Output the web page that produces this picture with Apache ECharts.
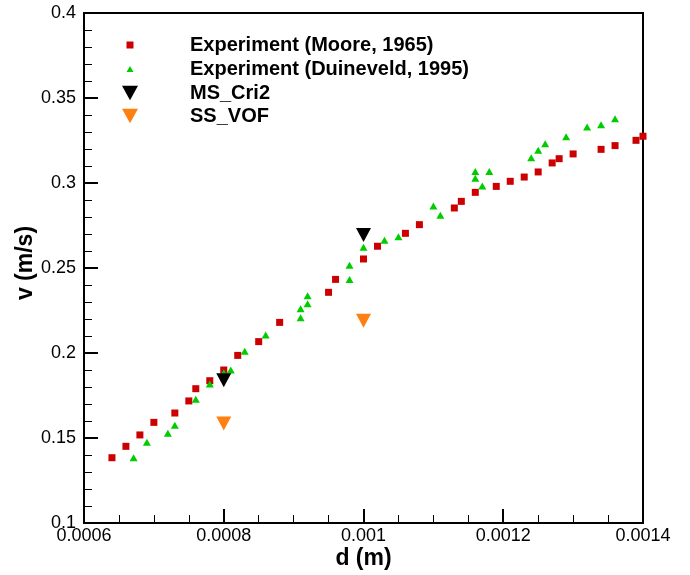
<!DOCTYPE html>
<html><head><meta charset="utf-8">
<script src="https://cdn.jsdelivr.net/npm/echarts@6/dist/echarts.min.js"></script>
<style>html,body{margin:0;padding:0;background:#fff}#c{width:690px;height:575px}</style>
</head><body><div id="c"></div>
<script>
const xTicks = [0.0006, 0.0008, 0.001, 0.0012, 0.0014];
const yTicks = [0.1, 0.15, 0.2, 0.25, 0.3, 0.35, 0.4];
const seriesNames = ['Experiment (Moore, 1965)', 'Experiment (Duineveld, 1995)', 'MS_Cri2', 'SS_VOF'];
const mooreD = [0.00064,0.00066,0.00068,0.0007,0.00073,0.00075,0.00076,0.00078,0.0008,0.00082,0.00085,0.00088,0.00095,0.00096,0.001,0.00102,0.00106,0.00108,0.00113,0.00114,0.00116,0.00119,0.00121,0.00123,0.00125,0.00127,0.00128,0.0013,0.00134,0.00136,0.00139,0.0014];
const mooreV = [0.1384,0.1451,0.1518,0.1592,0.1647,0.1718,0.179,0.1837,0.19,0.1986,0.2067,0.218,0.2357,0.2433,0.2553,0.2628,0.2704,0.2755,0.2853,0.2892,0.2945,0.298,0.301,0.3035,0.3065,0.3118,0.3143,0.3171,0.3198,0.322,0.3251,0.3275];
const duinD = [0.000671,0.00069,0.00072,0.00073,0.00076,0.00078,0.0008,0.00081,0.00083,0.00086,0.00091,0.00091,0.00092,0.00092,0.00098,0.00098,0.001,0.00103,0.00105,0.0011,0.00111,0.00116,0.00116,0.00117,0.00118,0.00124,0.00125,0.00126,0.00129,0.00132,0.00134,0.00136];
const duinV = [0.1384,0.1475,0.1528,0.1575,0.1728,0.1818,0.1884,0.19,0.201,0.2106,0.2208,0.2261,0.229,0.2337,0.2433,0.2516,0.2622,0.2663,0.2684,0.2865,0.281,0.3028,0.3067,0.2982,0.3067,0.3149,0.3192,0.3231,0.3272,0.3329,0.3343,0.3378];
const msD = [0.0008, 0.001];
const msV = [0.184, 0.2694];
const ssD = [0.0008, 0.001];
const ssV = [0.1586, 0.219];

const zip = (a, b) => a.map((v, i) => [v, b[i]]);
const font = 'Arial, "Liberation Sans", sans-serif';
const colors = ['#cc0000', '#00cc00', '#000000', '#ff8010'];
const symbols = ['rect', 'triangle', 'path://M0,0L10,0L5,9Z', 'path://M0,0L10,0L5,9Z'];
const sizes = [[7,7],[8,7],[15,14],[15,14]];
const legendSizes = [[7,7],[7,6],[16,15],[16,15]];
const legendCenters = [45, 69, 93, 116];
const LH = 22;

const chart = echarts.init(document.getElementById('c'));
chart.setOption({
  animation: false,
  grid: {left: 84, right: 47, top: 13, bottom: 52, show: true, borderColor: '#000', borderWidth: 2, backgroundColor: 'transparent'},
  legend: seriesNames.map((n, i) => {
    const w = legendSizes[i][0], h = legendSizes[i][1];
    const left = 130 - w / 2;
    return {
      data: [{name: n, icon: symbols[i]}],
      left: left, top: legendCenters[i] - LH / 2,
      itemWidth: w, itemHeight: h,
      itemGap: 0, padding: 0,
      textStyle: {fontFamily: font, fontWeight: 'bold', fontSize: 20, lineHeight: LH, color: '#000',
        padding: [0, 0, 0, 190 - left - w - 5]},
      selectedMode: false
    };
  }),
  xAxis: {
    type: 'value', min: xTicks[0], max: xTicks[xTicks.length-1], interval: 0.0002,
    name: 'd (m)', nameLocation: 'middle', nameGap: 24, nameMoveOverlap: false,
    nameTextStyle: {fontFamily: font, fontWeight: 'bold', fontSize: 23, color: '#000'},
    axisLine: {onZero: false, lineStyle: {color: '#000', width: 2}},
    axisTick: {inside: true, length: 14, lineStyle: {color: '#000', width: 2}},
    minorTick: {show: true, splitNumber: 4, length: 8, lineStyle: {color: '#000', width: 1}},
    splitLine: {show: false},
    axisLabel: {fontFamily: font, fontSize: 18, color: '#000', margin: 4,
      formatter: v => String(+v.toFixed(5))}
  },
  yAxis: {
    type: 'value', min: yTicks[0], max: yTicks[yTicks.length-1], interval: 0.05,
    name: 'v (m/s)', nameLocation: 'middle', nameGap: 47, nameRotate: 90, nameMoveOverlap: false,
    nameTextStyle: {fontFamily: font, fontWeight: 'bold', fontSize: 23, color: '#000', padding: [0, 0, 0, 10]},
    axisLine: {onZero: false, lineStyle: {color: '#000', width: 2}},
    axisTick: {inside: true, length: 14, lineStyle: {color: '#000', width: 2}},
    minorTick: {show: true, splitNumber: 5, length: 8, lineStyle: {color: '#000', width: 1}},
    splitLine: {show: false},
    axisLabel: {fontFamily: font, fontSize: 18, color: '#000', margin: 8,
      formatter: v => String(+v.toFixed(3))}
  },
  series: [zip(mooreD, mooreV), zip(duinD, duinV), zip(msD, msV), zip(ssD, ssV)].map((d, i) => ({
    name: seriesNames[i], type: 'scatter', data: d,
    symbol: symbols[i], symbolSize: sizes[i],
    itemStyle: {color: colors[i], opacity: 1}, z: i === 0 ? 3 : (i === 1 ? 4 : 5)
  }))
});
</script></body></html>
